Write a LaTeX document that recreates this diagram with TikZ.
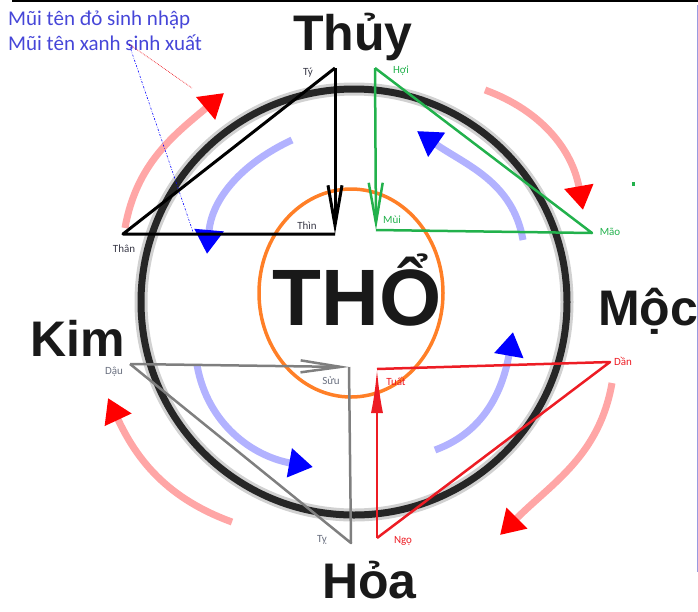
\documentclass[tikz,border=0pt]{standalone}
\usepackage{fontspec}
\setmainfont{Carlito}
\newfontfamily\elemfont{Liberation Sans}
\usetikzlibrary{arrows.meta}
\definecolor{paintred}{HTML}{ED1C24}
\definecolor{paintgreen}{HTML}{22B14C}
\definecolor{paintorange}{HTML}{FF7F27}
\definecolor{paintgray}{HTML}{7F7F7F}
\definecolor{legendblue}{HTML}{4646D8}
\definecolor{labelgray}{HTML}{6A7080}
\definecolor{labeldark}{HTML}{3A3A48}
\definecolor{framelilac}{HTML}{9A9AE0}
\tikzset{
  element/.style={font=\elemfont\bfseries\fontsize{50}{60}\selectfont, text=black!90, inner sep=0pt, text depth=0pt},
  branch/.style={font=\fontsize{11}{13}\selectfont, inner sep=0pt},
  redflow/.style={line width=7pt, red!35, -{Triangle[length=24pt,width=28pt,color=red]}},
  blueflow/.style={line width=7pt, blue!30, -{Triangle[length=24pt,width=28pt,color=blue]}},
  barb/.style={-{Straight Barb[length=40pt,width=14pt]}},
}
\begin{document}
\begin{tikzpicture}[x=1pt,y=1pt]
        \useasboundingbox (0,0) rectangle (698,-611);
        % frame of the screenshot
        \coordinate (frametopleft)      at  ( 12,  -1);
        \coordinate (frametopright)     at  (698,  -1);
        \coordinate (framerighttop)     at  (697,  -5);
        \coordinate (framerightbottom)  at  (697,-572);
        \draw[line width=1.5pt] (frametopleft) -- (frametopright);
        \draw[line width=1pt, framelilac] (framerighttop) -- (framerightbottom);
        \fill[paintgreen] (632,-182) rectangle (635,-186);
        % big circle
        \coordinate (centre) at (354,-302);
        \draw[line width=13pt, black!18] (centre) circle[radius=213];
        \draw[line width=7pt, black!85] (centre) circle[radius=213];
        % coordinates for the red flows (sinh nhap)
        \coordinate (kimthuystart)   at  (125,-228);
        \coordinate (kimthuytip)     at  (224, -93);
        \coordinate (thuymocstart)   at  (485, -90);
        \coordinate (thuymoctip)     at  (583,-210);
        \coordinate (mochoastart)    at  (612,-383);
        \coordinate (mochoatip)      at  (500,-535);
        \coordinate (hoakimstart)    at  (232,-522);
        \coordinate (hoakimtip)      at  (108,-398);
        % coordinates for the blue flows (sinh xuat)
        \coordinate (thuykimstart)   at  (292,-140);
        \coordinate (thuykimtip)     at  (207,-254);
        \coordinate (mocthuystart)   at  (523,-240);
        \coordinate (mocthuytip)     at  (417,-131);
        \coordinate (hoamocstart)    at  (435,-450);
        \coordinate (hoamoctip)      at  (513,-332);
        \coordinate (kimhoastart)    at  (197,-365);
        \coordinate (kimhoatip)      at  (313,-467);
        % drawing the flows
        \draw[redflow]  (kimthuystart) to[out=80,  in=-140] (kimthuytip);
        \draw[redflow]  (thuymocstart) to[out=-20, in=100]  (thuymoctip);
        \draw[redflow]  (mochoastart)  to[out=-100,in=45]   (mochoatip);
        \draw[redflow]  (hoakimstart)  to[out=160, in=-65]  (hoakimtip);
        \draw[blueflow] (thuykimstart) to[out=205, in=85]   (thuykimtip);
        \draw[blueflow] (mocthuystart) to[out=100, in=-35]  (mocthuytip);
        \draw[blueflow] (hoamocstart)  to[out=20,  in=-100] (hoamoctip);
        \draw[blueflow] (kimhoastart)  to[out=-80, in=170]  (kimhoatip);
        % the elements
        \node[element, anchor=base]      (thuy) at (353, -50) {Thủy};
        \node[element, anchor=base west] (kim)  at ( 30,-356) {Kim};
        \node[element, anchor=base west] (moc)  at (598,-325) {Mộc};
        \node[element, anchor=base west] (hoa)  at (322,-598) {Hỏa};
        \node[element, anchor=base, font=\elemfont\bfseries\fontsize{80}{90}\selectfont] (tho) at (357,-325) {THỔ};
        \draw[paintorange, line width=3.5pt] (351,-293) ellipse[x radius=92, y radius=104];
        % legend
        \node[anchor=base west, inner sep=0pt, text=legendblue, font=\fontsize{21}{25}\selectfont] (legendred)  at (8,-25) {Mũi tên đỏ sinh nhập};
        \node[anchor=base west, inner sep=0pt, text=legendblue, font=\fontsize{21}{25}\selectfont] (legendblue) at (8,-50) {Mũi tên xanh sinh xuất};
        \coordinate (legendpoint)   at (129, -44);
        \coordinate (redarrowhint)  at (192, -88);
        \coordinate (bluearrowhint) at (193,-232);
        \draw[paintred, line width=0.7pt, densely dotted] (legendpoint) -- (redarrowhint);
        \draw[blue, line width=0.6pt, dash pattern=on 2pt off 1.5pt on 0.6pt off 1.5pt] (legendpoint) -- (bluearrowhint);
        % black triangle
        \coordinate (ty)    at (335, -68);
        \coordinate (thin)  at (335,-234);
        \coordinate (than)  at (123,-234);
        \draw[line width=3pt, line join=round] (thin) -- (than) -- (ty);
        \draw[line width=3pt, barb] (ty) -- (thin);
        % green triangle
        \coordinate (hoi)   at (375, -68);
        \coordinate (mui)   at (376,-230);
        \coordinate (mao)   at (592,-233);
        \draw[paintgreen, line width=2.5pt, line join=round] (mui) -- (mao) -- (hoi);
        \draw[paintgreen, line width=2.5pt, barb] (hoi) -- (mui);
        % red triangle
        \coordinate (dan)   at (610,-362);
        \coordinate (tuat)  at (377,-369);
        \coordinate (ngo)   at (377,-538);
        \draw[paintred, line width=2.5pt, line join=round] (tuat) -- (dan) -- (ngo);
        \draw[paintred, line width=2.5pt, -{Latex[length=44pt,width=12pt]}] (ngo) -- (tuat);
        % gray triangle
        \coordinate (dau)   at (130,-364);
        \coordinate (suu)   at (349,-367);
        \coordinate (tyhoa) at (351,-543);
        \draw[paintgray, line width=2.5pt, line join=round] (suu) -- (tyhoa) -- (dau);
        \draw[paintgray, line width=2.5pt, -{Straight Barb[length=40pt,width=12pt]}] (dau) -- (suu);
        % branch labels
        \node[branch, text=labeldark]  (tylabel)    at (308, -73) {Tý};
        \node[branch, text=labeldark]  (thinlabel)  at (307,-226) {Thìn};
        \node[branch, text=labeldark]  (thanlabel)  at (124,-249) {Thân};
        \node[branch, text=paintgreen] (hoilabel)   at (401, -71) {Hợi};
        \node[branch, text=paintgreen] (muilabel)   at (392,-220) {Mùi};
        \node[branch, text=paintgreen] (maolabel)   at (610,-232) {Mão};
        \node[branch, text=paintred]   (danlabel)   at (623,-361) {Dần};
        \node[branch, text=paintred]   (tuatlabel)  at (396,-381) {Tuất};
        \node[branch, text=paintred]   (ngolabel)   at (403,-541) {Ngọ};
        \node[branch, text=labelgray]  (daulabel)   at (114,-372) {Dậu};
        \node[branch, text=labelgray]  (suulabel)   at (331,-381) {Sửu};
        \node[branch, text=labelgray]  (tyhoalabel) at (322,-540) {Tỵ};
      \end{tikzpicture}
\end{document}
